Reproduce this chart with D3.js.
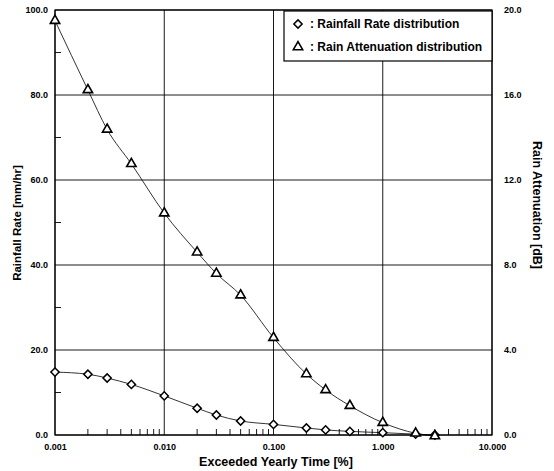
<!DOCTYPE html>
<html>
<head>
<meta charset="utf-8">
<script src="https://cdn.jsdelivr.net/npm/d3@7"></script>
<style>
  body { margin: 0; background: #fff; }
  text { font-family: Arial, "Liberation Sans", sans-serif; fill: #000; }
</style>
</head>
<body>
<svg id="chart" width="554" height="471"></svg>
<script>
// Exceeded yearly time [%]
const timePercent = [0.001, 0.002, 0.003, 0.005, 0.01, 0.02, 0.03, 0.05, 0.1, 0.2, 0.3, 0.5, 1.0, 2.0, 3.0];
// Rainfall rate [mm/hr]
const rainRate = [14.8, 14.3, 13.4, 11.9, 9.2, 6.3, 4.7, 3.3, 2.5, 1.65, 1.2, 0.85, 0.55, 0.2, 0.0];
// Rain attenuation [dB]
const rainAtten = [19.5, 16.24, 14.38, 12.76, 10.44, 8.6, 7.6, 6.58, 4.58, 2.87, 2.12, 1.38, 0.58, 0.08, -0.05];

const xTicks = [0.001, 0.01, 0.1, 1, 10];
const xTickLabels = ["0.001", "0.010", "0.100", "1.000", "10.000"];
const leftTicks = [0, 20, 40, 60, 80, 100];
const rightTicks = [0, 4, 8, 12, 16, 20];

const margin = { left: 55, right: 62, top: 10, bottom: 36 };
const width = 554, height = 471;

const svg = d3.select("#chart");

const x = d3.scaleLog().domain([0.001, 10]).range([margin.left, width - margin.right]);
const yL = d3.scaleLinear().domain([0, 100]).range([height - margin.bottom, margin.top]);
const yR = d3.scaleLinear().domain([0, 20]).range([height - margin.bottom, margin.top]);

const x0 = x.range()[0], x1 = x.range()[1];
const y0 = yL.range()[0], y1 = yL.range()[1];

// Grid
const grid = svg.append("g").attr("stroke", "#000").attr("stroke-width", 0.9);
grid.selectAll("line.gx")
  .data(xTicks)
  .enter().append("line")
  .attr("x1", d => x(d)).attr("x2", d => x(d))
  .attr("y1", y0).attr("y2", y1);
grid.selectAll("line.gy")
  .data(leftTicks)
  .enter().append("line")
  .attr("x1", x0).attr("x2", x1)
  .attr("y1", d => yL(d)).attr("y2", d => yL(d));

// Minor ticks on x axis (2..9 in each decade), pointing inward
const minorX = [];
for (let dec = 0.001; dec < 9; dec *= 10) {
  for (let k = 2; k <= 9; k++) minorX.push(dec * k);
}
svg.append("g").selectAll("line")
  .data(minorX)
  .enter().append("line")
  .attr("stroke", "#000").attr("stroke-width", 0.9)
  .attr("x1", d => x(d)).attr("x2", d => x(d))
  .attr("y1", y0).attr("y2", y0 - 6);

// Minor ticks on left axis
svg.append("g").selectAll("line")
  .data([10, 30, 50, 70, 90])
  .enter().append("line")
  .attr("stroke", "#000").attr("stroke-width", 0.9)
  .attr("x1", x0).attr("x2", x0 + 6)
  .attr("y1", d => yL(d)).attr("y2", d => yL(d));

// Frame
svg.append("rect")
  .attr("x", x0).attr("y", y1)
  .attr("width", x1 - x0).attr("height", y0 - y1)
  .attr("fill", "none").attr("stroke", "#000").attr("stroke-width", 1.2);

// Axes labels
const xAxis = d3.axisBottom(x).tickValues(xTicks)
  .tickFormat((d, i) => xTickLabels[i]).tickSize(0).tickPadding(9);
const gx = svg.append("g").attr("transform", `translate(0,${y0})`).call(xAxis);
gx.select(".domain").remove();
gx.selectAll("text").attr("font-size", 9).attr("font-weight", "bold");

const yAxisL = d3.axisLeft(yL).tickValues(leftTicks)
  .tickFormat(d3.format(".1f")).tickSize(0).tickPadding(7);
const gyl = svg.append("g").attr("transform", `translate(${x0},0)`).call(yAxisL);
gyl.select(".domain").remove();
gyl.selectAll("text").attr("font-size", 9).attr("font-weight", "bold");

const yAxisR = d3.axisRight(yR).tickValues(rightTicks)
  .tickFormat(d3.format(".1f")).tickSize(0).tickPadding(12);
const gyr = svg.append("g").attr("transform", `translate(${x1},0)`).call(yAxisR);
gyr.select(".domain").remove();
gyr.selectAll("text").attr("font-size", 9).attr("font-weight", "bold");

// Axis titles
svg.append("text")
  .attr("x", 276).attr("y", 466)
  .attr("text-anchor", "middle")
  .attr("font-size", 12.5).attr("font-weight", "bold")
  .text("Exceeded Yearly Time [%]");

svg.append("text")
  .attr("transform", `translate(21,223) rotate(-90)`)
  .attr("text-anchor", "middle")
  .attr("font-size", 11.5).attr("font-weight", "bold")
  .text("Rainfall Rate [mm/hr]");

svg.append("text")
  .attr("transform", `translate(533,205) rotate(90)`)
  .attr("text-anchor", "middle")
  .attr("font-size", 12.5).attr("font-weight", "bold")
  .text("Rain Attenuation [dB]");

// Lines
const rateData = timePercent.map((t, i) => ({ t, v: rainRate[i] }));
const attData = timePercent.map((t, i) => ({ t, v: rainAtten[i] }));

const lineL = d3.line().x(d => x(d.t)).y(d => yL(d.v)).curve(d3.curveMonotoneX);
const lineR = d3.line().x(d => x(d.t)).y(d => yR(d.v)).curve(d3.curveMonotoneX);

svg.append("path").datum(rateData)
  .attr("d", lineL).attr("fill", "none").attr("stroke", "#000").attr("stroke-width", 0.8);
svg.append("path").datum(attData)
  .attr("d", lineR).attr("fill", "none").attr("stroke", "#000").attr("stroke-width", 0.8);

// Markers
const diamond = d3.symbol().type(d3.symbolSquare).size(34);
svg.append("g").selectAll("path")
  .data(rateData)
  .enter().append("path")
  .attr("d", diamond)
  .attr("transform", d => `translate(${x(d.t)},${yL(d.v)}) rotate(45)`)
  .attr("fill", "#fff").attr("stroke", "#000").attr("stroke-width", 1.5);

const tri = d3.symbol().type(d3.symbolTriangle).size(38);
svg.append("g").selectAll("path")
  .data(attData)
  .enter().append("path")
  .attr("d", tri)
  .attr("transform", d => `translate(${x(d.t)},${yR(d.v)})`)
  .attr("fill", "#fff").attr("stroke", "#000").attr("stroke-width", 1.6);

// Legend
const lg = svg.append("g");
lg.append("rect")
  .attr("x", 284).attr("y", y1 + 1)
  .attr("width", x1 - 284).attr("height", 50)
  .attr("fill", "#fff").attr("stroke", "#000").attr("stroke-width", 1.2);
lg.append("path").attr("d", diamond)
  .attr("transform", "translate(298,24) rotate(45)")
  .attr("fill", "#fff").attr("stroke", "#000").attr("stroke-width", 1.5);
lg.append("path").attr("d", tri)
  .attr("transform", "translate(298,47)")
  .attr("fill", "#fff").attr("stroke", "#000").attr("stroke-width", 1.6);
lg.append("text").attr("x", 310).attr("y", 28)
  .attr("font-size", 12).attr("font-weight", "bold")
  .text(": Rainfall Rate distribution");
lg.append("text").attr("x", 310).attr("y", 51)
  .attr("font-size", 12).attr("font-weight", "bold")
  .text(": Rain Attenuation distribution");
</script>
</body>
</html>
